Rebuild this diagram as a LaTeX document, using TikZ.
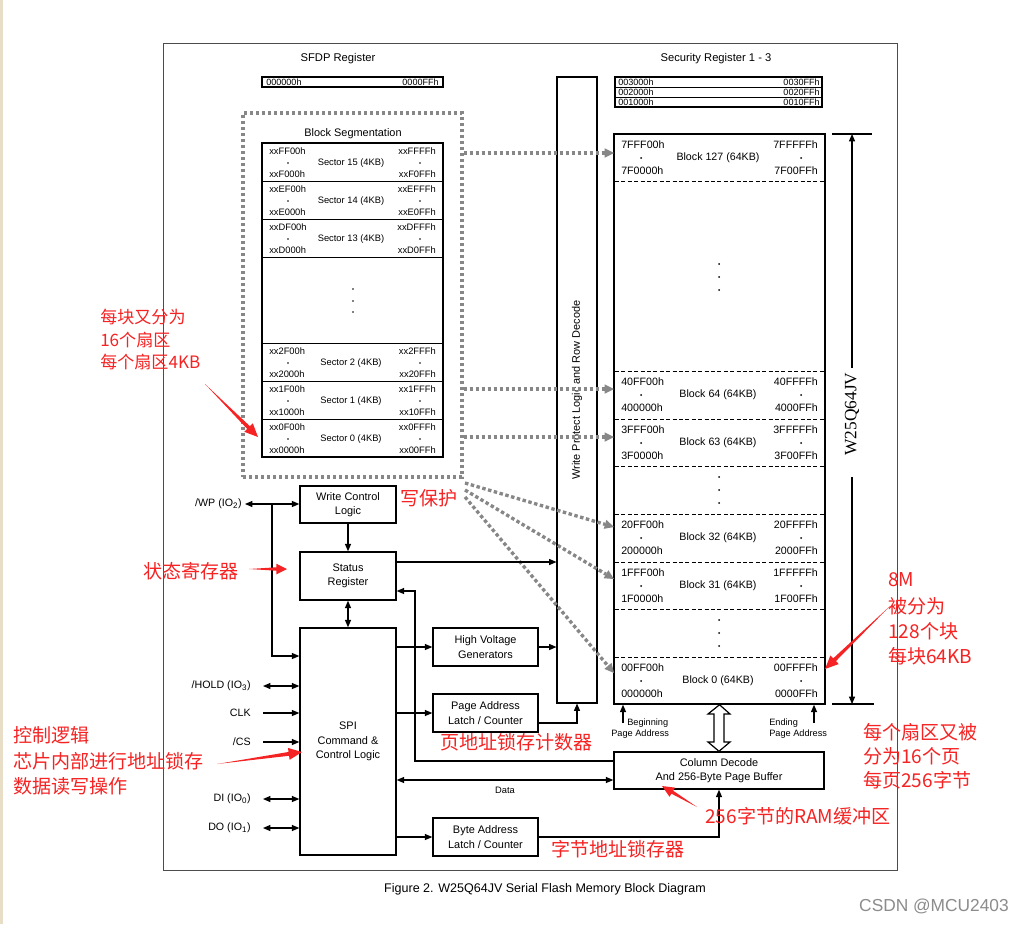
\documentclass[tikz,border=0pt]{standalone}
\usepackage{fontspec}
\setmainfont{Liberation Sans}
\newfontfamily\serifW{Liberation Serif}
\newfontfamily\cjk{Noto Sans CJK SC}
\usetikzlibrary{arrows.meta,calc}
\definecolor{annot}{RGB}{245,35,35}
\definecolor{dotgray}{RGB}{135,135,135}
\definecolor{beige}{RGB}{232,222,200}
\definecolor{wmgray}{RGB}{140,140,140}
\newcommand\fsz[2][1.2]{\fontsize{#2}{#1\dimexpr #2pt\relax}\selectfont}
\newcommand\secrow[7]{%
  \node[sx,anchor=west] (#7a) at (269,{#1+8}) {#2};
  \fill (288,{#1+20}) circle (0.7pt);
  \node[sx,anchor=west] (#7b) at (269,{#1+31}) {#3};
  \node[sx,anchor=east] (#7c) at (436,{#1+8}) {#4};
  \fill (420,{#1+20}) circle (0.7pt);
  \node[sx,anchor=east] (#7d) at (436,{#1+31}) {#5};
  \node[sx] (#7e) at (351,{#1+20}) {#6};}
\newcommand\blkrow[7]{%
  \node[bx,anchor=west] (#7a) at (621,{#1+11}) {#2};
  \fill (641,{#1+24}) circle (0.75pt);
  \node[bx,anchor=west] (#7b) at (621,{#1+37}) {#3};
  \node[bx,anchor=east] (#7c) at (818,{#1+11}) {#4};
  \fill (801,{#1+24}) circle (0.75pt);
  \node[bx,anchor=east] (#7d) at (818,{#1+37}) {#5};
  \node[bx] (#7e) at (718,{#1+24}) {#6};}
\newcommand\redarrow[4]{% tail, tip, head length, head half width
  \coordinate (rh) at ($(#2)!#3!(#1)$);
  \fill[annot] (#1) -- ($(rh)!0.32*#4!90:(#2)$) -- ($(rh)!#4!90:(#2)$) -- (#2)
     -- ($(rh)!#4!-90:(#2)$) -- ($(rh)!0.32*#4!-90:(#2)$) -- cycle;}
\begin{document}
\begin{tikzpicture}[x=0.75pt,y=-0.75pt,
  every node/.style={inner sep=0pt},
  txt/.style={font=\fsz{8}},
  sx/.style={font=\fsz{7}},
  bx/.style={font=\fsz{8}},
  tiny/.style={font=\fsz{6.8}},
  box/.style={draw, line width=1.1pt, align=center, font=\fsz[1.3]{8.2}, fill=white},
  conn/.style={line width=0.8pt},
  arr/.style={-{Triangle[length=5.5pt,width=4.5pt]}},
  darr/.style={{Triangle[length=5.5pt,width=4.5pt]}-{Triangle[length=5.5pt,width=4.5pt]}},
  dotline/.style={draw=dotgray, line width=2.5pt, dash pattern=on 2.6pt off 1.9pt},
  gtip/.style={-{Triangle[length=7pt,width=7pt,line width=0pt]}},
  annotxt/.style={text=annot, font=\cjk\fsz{14.3}, anchor=west},
  annotsm/.style={text=annot, font=\cjk\fsz{12.8}, anchor=west},
]
\useasboundingbox (0,0) rectangle (1019,924);
\fill[white] (0,0) rectangle (1019,924);
\fill[beige] (0,0) rectangle (3,924);

% outer frame
\draw[black!70, line width=0.6pt] (163,43) rectangle (897,870);

% titles
\node[font=\fsz{8.4}] (sfdpT) at (338,59) {SFDP Register};
\node[font=\fsz{8.4}] (secT) at (716,59) {Security Register 1 - 3};

% SFDP box
\draw[line width=1pt] (262,77) rectangle (443,87);
\node[tiny,anchor=west] (sf1) at (266,82) {000000h};
\node[tiny,anchor=east] (sf2) at (439,82) {0000FFh};

% Security register boxes
\draw[line width=1pt] (615,77) rectangle (822,107);
\draw[line width=0.6pt] (615,87) -- (822,87) (615,97) -- (822,97);
\node[tiny,anchor=west] (s3a) at (618,82) {003000h};
\node[tiny,anchor=east] (s3b) at (820,82) {0030FFh};
\node[tiny,anchor=west] (s2a) at (618,92) {002000h};
\node[tiny,anchor=east] (s2b) at (820,92) {0020FFh};
\node[tiny,anchor=west] (s1a) at (618,102) {001000h};
\node[tiny,anchor=east] (s1b) at (820,102) {0010FFh};

% Block segmentation
\node[dotline, minimum width=164.25pt, minimum height=273pt] (seg) at (352.5,295) {};
\node[font=\fsz{8.2}] (segT) at (353,134) {Block Segmentation};
\draw[line width=1.1pt] (262,143) rectangle (443,457);
\foreach \yy in {181,219,257,343,381,419} \draw[line width=0.6pt] (262,\yy) -- (443,\yy);
\secrow{143}{xxFF00h}{xxF000h}{xxFFFFh}{xxF0FFh}{Sector 15 (4KB)}{sA}
\secrow{181}{xxEF00h}{xxE000h}{xxEFFFh}{xxE0FFh}{Sector 14 (4KB)}{sB}
\secrow{219}{xxDF00h}{xxD000h}{xxDFFFh}{xxD0FFh}{Sector 13 (4KB)}{sC}
\secrow{343}{xx2F00h}{xx2000h}{xx2FFFh}{xx20FFh}{Sector 2 (4KB)}{sD}
\secrow{381}{xx1F00h}{xx1000h}{xx1FFFh}{xx10FFh}{Sector 1 (4KB)}{sE}
\secrow{419}{xx0F00h}{xx0000h}{xx0FFFh}{xx00FFh}{Sector 0 (4KB)}{sF}
\foreach \yy in {289,301,312} \fill (353,\yy) circle (0.7pt);

% Write protect column
\node[draw, line width=0.8pt, minimum width=30pt, minimum height=469.5pt] (wp) at (577,390) {};
\node[font=\fsz{8.2}, rotate=90] (wpT) at (577,390) {Write Protect Logic and Row Decode};

% Memory array
\node[draw, line width=1.1pt, minimum width=158.25pt, minimum height=427.5pt] (mem) at (719.5,419) {};
\foreach \yy in {181,371,419,466,514,562,609,657}
  \draw[line width=0.5pt, dash pattern=on 3pt off 1.8pt] (615,\yy) -- (824,\yy);
\blkrow{134}{7FFF00h}{7F0000h}{7FFFFFh}{7F00FFh}{Block 127 (64KB)}{bA}
\blkrow{371}{40FF00h}{400000h}{40FFFFh}{4000FFh}{Block 64 (64KB)}{bB}
\blkrow{419}{3FFF00h}{3F0000h}{3FFFFFh}{3F00FFh}{Block 63 (64KB)}{bC}
\blkrow{514}{20FF00h}{200000h}{20FFFFh}{2000FFh}{Block 32 (64KB)}{bD}
\blkrow{562}{1FFF00h}{1F0000h}{1FFFFFh}{1F00FFh}{Block 31 (64KB)}{bE}
\blkrow{657}{00FF00h}{000000h}{00FFFFh}{0000FFh}{Block 0 (64KB)}{bF}
\foreach \yy in {264,277,290,477,490,503,620,633,646} \fill (719,\yy) circle (0.75pt);

% dotted mapping lines
\coordinate (g127) at (614,153);
\coordinate (g64) at (614,389);
\coordinate (g63) at (614,437);
\coordinate (g32) at (614,527);
\coordinate (g31) at (614,579);
\coordinate (g0) at (614,673);
\draw[dotline, gtip] (seg.east |- g127) -- (g127);
\draw[dotline, gtip] (seg.east |- g64) -- (g64);
\draw[dotline, gtip] (seg.east |- g63) -- (g63);
\draw[dotline, gtip] (465,483) -- (g32);
\draw[dotline, gtip] (465,490) -- (g31);
\draw[dotline, gtip] (465,497) -- (g0);

% W25Q64JV dimension
\draw[line width=0.8pt] (832,134) -- (872,134) (832,704) -- (874,704);
\coordinate (dimT) at (852,134);
\coordinate (dimB) at (852,704);
\node[font=\serifW\fsz{13}, rotate=90] (dimL) at (852,414) {W25Q64JV};
\draw[conn, arr] (852,368) -- (dimT);
\draw[conn, arr] (852,477) -- (dimB);

% left blocks
\node[box, minimum width=72pt, minimum height=27.75pt] (wcl) at (348,504.5) {Write Control\\Logic};
\node[box, minimum width=72pt, minimum height=36pt] (sr) at (348,576) {Status\\Register};
\node[box, minimum width=72pt, minimum height=170.25pt] (spi) at (348,741.5) {SPI\\Command \&\\Control Logic};
\node[box, minimum width=78.75pt, minimum height=28.5pt] (hv) at (485.5,647) {High Voltage\\Generators};
\node[box, minimum width=78.75pt, minimum height=28.5pt] (pal) at (485.5,713) {Page Address\\Latch / Counter};
\node[box, minimum width=78.75pt, minimum height=28.5pt] (bal) at (485.5,837) {Byte Address\\Latch / Counter};
\node[box, minimum width=157.5pt, minimum height=27.75pt] (cd) at (719,770.5) {Column Decode\\And 256-Byte Page Buffer};

% signals
\node[txt, anchor=east] (lwp) at (242,504) {/WP (IO\textsubscript{2})};
\node[txt, anchor=east] (lhold) at (251,686) {/HOLD (IO\textsubscript{3})};
\node[txt, anchor=east] (lclk) at (251,713) {CLK};
\node[txt, anchor=east] (lcs) at (251,742) {/CS};
\node[txt, anchor=east] (ldi) at (251,799) {DI (IO\textsubscript{0})};
\node[txt, anchor=east] (ldo) at (251,828) {DO (IO\textsubscript{1})};
\draw[conn, darr] ($(lwp.east)+(3,0)$) -- (wcl.west |- lwp);
\coordinate (wpj) at (272,504);
\draw[conn, arr] (wpj) |- (spi.west |- 0,656);
\draw[conn, darr] ($(lhold.east)+(12,0)$) -- (spi.west |- lhold);
\draw[conn, arr] ($(lclk.east)+(12,0)$) -- (spi.west |- lclk);
\draw[conn, arr] ($(lcs.east)+(12,0)$) -- (spi.west |- lcs);
\draw[conn, darr] ($(ldi.east)+(12,0)$) -- (spi.west |- ldi);
\draw[conn, darr] ($(ldo.east)+(12,0)$) -- (spi.west |- ldo);

% internal connectors
\draw[conn, arr] (wcl) -- (sr);
\draw[conn, darr] (sr) -- (spi);
\draw[conn, arr] (sr.east |- 0,562) -- (wp.west |- 0,562);
\draw[conn, arr] (cd.west |- 0,761) -- (415,761) |- (sr.east |- 0,591);
\draw[conn, arr] (spi.east |- hv) -- (hv);
\draw[conn, arr] (hv) -- (wp.west |- hv);
\draw[conn, arr] (spi.east |- pal) -- (pal);
\draw[conn, arr] (pal.east |- 0,723) -| (wp.south);
\draw[conn, darr] (spi.east |- 0,780) -- (cd.west |- 0,780);
\node[font=\fsz{7}] (dataL) at (505,790) {Data};
\draw[conn, arr] (spi.east |- bal) -- (bal);
\draw[conn, arr] (bal) -| (cd.south);

% page address arrows
\coordinate (bpa) at (623,723);
\coordinate (epa) at (814,723);
\draw[conn, arr] (bpa) -- (mem.south -| bpa);
\draw[conn, arr] (epa) -- (mem.south -| epa);
\node[font=\fsz{6.9}, anchor=west] (bg1) at (627,723) {Beginning};
\node[font=\fsz{6.9}, anchor=west] (bg2) at (611,734) {Page Address};
\node[font=\fsz{6.9}, anchor=west] (en1) at (769,723) {Ending};
\node[font=\fsz{6.9}, anchor=west] (en2) at (769,734) {Page Address};

% hollow double arrow between array and column decode
\draw[line width=0.9pt, fill=white] (mem.south) -- (708,714) -- (714,714) -- (714,742) -- (708,742)
  -- (cd.north) -- (730,742) -- (724,742) -- (724,714) -- (730,714) -- cycle;

% caption and watermark
\node[font=\fsz{9.4}] (cap) at (545,889) {Figure 2. W25Q64JV Serial Flash Memory Block Diagram};
\node[font=\fsz{13}, text=wmgray] (wm) at (934,906) {CSDN @MCU2403};

% red annotations
\node[annotsm] (a1a) at (100,317) {每块又分为};
\node[annotsm] (a1b) at (100,340) {16个扇区};
\node[annotsm] (a1c) at (100,362) {每个扇区4KB};
\node[annotxt] (a2) at (400,498) {写保护};
\node[annotxt] (a3) at (143,571) {状态寄存器};
\node[annotxt] (a4a) at (13,735) {控制逻辑};
\node[annotxt] (a4b) at (13,761) {芯片内部进行地址锁存};
\node[annotxt] (a4c) at (13,786) {数据读写操作};
\node[annotxt] (a5) at (440,742) {页地址锁存计数器};
\node[annotxt] (a6) at (551,849) {字节地址锁存器};
\node[annotxt] (a7) at (705,816) {256字节的RAM缓冲区};
\node[annotxt] (a8a) at (888,580) {8M};
\node[annotxt] (a8b) at (888,606) {被分为};
\node[annotxt] (a8c) at (888,631) {128个块};
\node[annotxt] (a8d) at (888,656) {每块64KB};
\node[annotxt] (a9a) at (863,732) {每个扇区又被};
\node[annotxt] (a9b) at (863,756) {分为16个页};
\node[annotxt] (a9c) at (863,780) {每页256字节};

\coordinate (r1t) at (205,384); \coordinate (r1h) at (258,437);
\coordinate (r2t) at (249,569); \coordinate (r2h) at (287,569);
\coordinate (r3t) at (217,764); \coordinate (r3h) at (302,752);
\coordinate (r4t) at (697,807); \coordinate (r4h) at (662,786);
\coordinate (r5t) at (890,606); \coordinate (r5h) at (825,669);
\redarrow{r1t}{r1h}{10pt}{4.5pt}
\redarrow{r2t}{r2h}{8pt}{4pt}
\redarrow{r3t}{r3h}{10pt}{4.5pt}
\redarrow{r4t}{r4h}{9pt}{4pt}
\redarrow{r5t}{r5h}{10pt}{4.5pt}
\end{tikzpicture}
\end{document}
